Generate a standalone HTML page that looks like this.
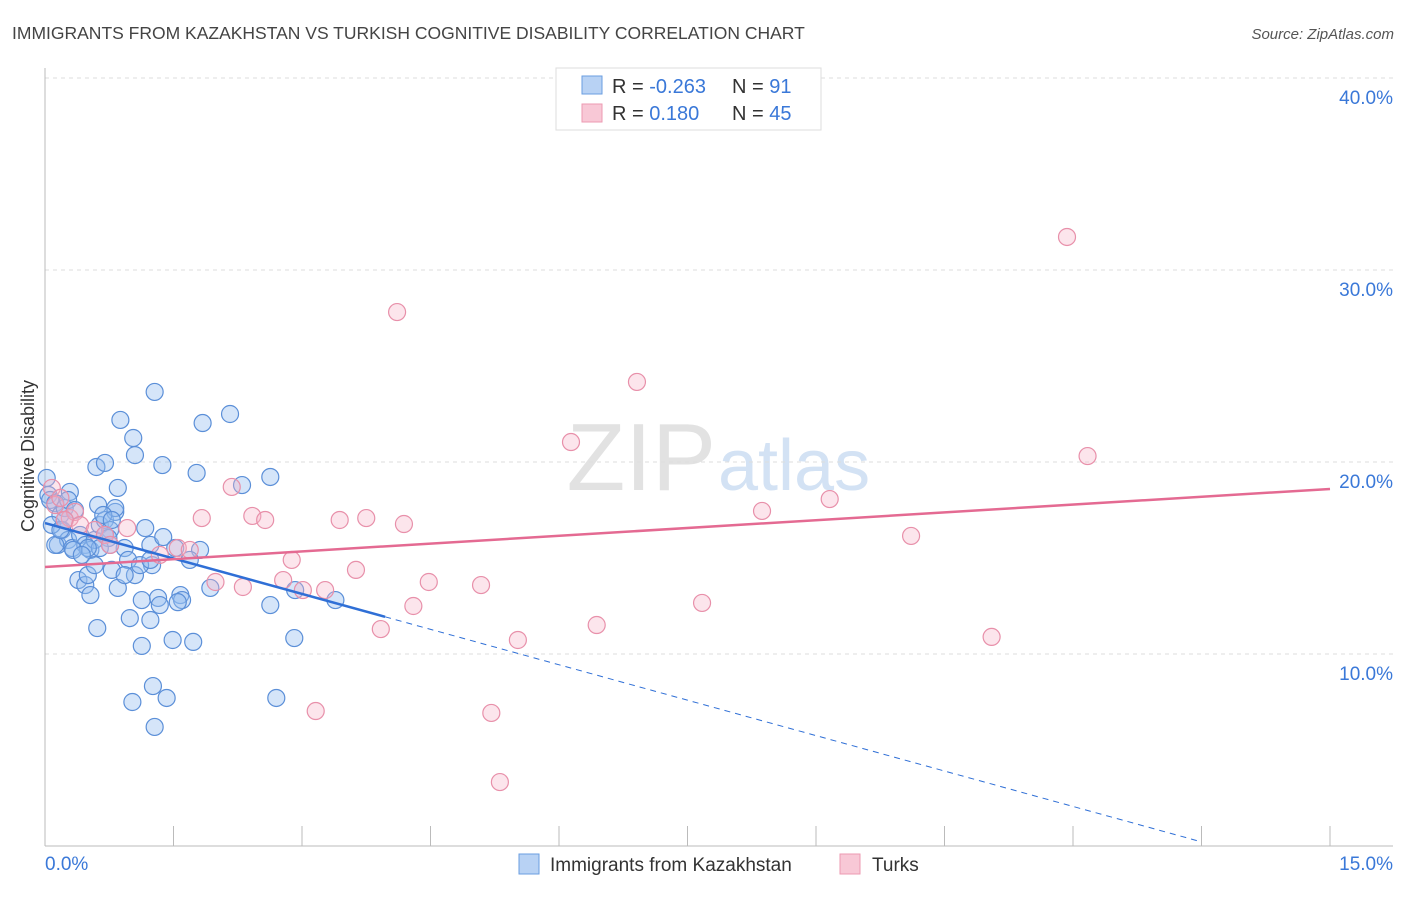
<!DOCTYPE html>
<html><head><meta charset="utf-8"><style>
body{margin:0;background:#fff;font-family:"Liberation Sans",sans-serif;}
svg text{font-family:"Liberation Sans",sans-serif;}
</style></head><body>
<svg id="chart" width="1406" height="892" xmlns="http://www.w3.org/2000/svg">
<text x="12" y="39" font-size="17.5" fill="#444">IMMIGRANTS FROM KAZAKHSTAN VS TURKISH COGNITIVE DISABILITY CORRELATION CHART</text>
<text x="1394" y="39" font-size="15" fill="#555" font-style="italic" text-anchor="end">Source: ZipAtlas.com</text>
<text x="716" y="490" font-size="96" fill="#e2e2e2" text-anchor="end" font-family="Liberation Serif">ZIP</text>
<text x="718" y="490" font-size="72" fill="#d3e2f4">atlas</text>
<g id="grid"></g>
<g id="axes"></g>
<g id="marks"></g>
<text transform="translate(34,456) rotate(-90)" font-size="18" fill="#333" text-anchor="middle">Cognitive Disability</text>
<g>
<rect x="556" y="68" width="265" height="62" fill="#fff" stroke="#ddd"/>
<rect x="582" y="76" width="20" height="18" fill="#b8d2f4" stroke="#6a9ee0"/>
<rect x="582" y="104" width="20" height="18" fill="#f8c8d6" stroke="#ec9ab2"/>
<text x="612" y="93" font-size="20" fill="#333">R = <tspan fill="#3a78d8">-0.263</tspan></text>
<text x="732" y="93" font-size="20" fill="#333">N = <tspan fill="#3a78d8"> 91</tspan></text>
<text x="612" y="120" font-size="20" fill="#333">R = <tspan fill="#3a78d8"> 0.180</tspan></text>
<text x="732" y="120" font-size="20" fill="#333">N = <tspan fill="#3a78d8">45</tspan></text>
</g>
<g>
<rect x="519" y="854" width="20" height="20" fill="#b8d2f4" stroke="#6a9ee0"/>
<text x="550" y="871" font-size="19" fill="#333">Immigrants from Kazakhstan</text>
<rect x="840" y="854" width="20" height="20" fill="#f8c8d6" stroke="#ec9ab2"/>
<text x="872" y="871" font-size="19" fill="#333">Turks</text>
</g>
</svg>
<script>
const blueX=[0.02,0.04,0.06,0.12,0.18,0.23,0.29,0.27,0.35,0.20,0.15,0.27,0.32,0.41,0.47,0.53,0.58,0.64,0.70,0.76,0.82,0.74,0.64,0.39,0.47,0.50,0.53,0.61,0.60,0.70,0.85,0.82,0.88,1.03,1.05,1.28,1.37,1.77,1.84,2.16,2.30,2.63,0.78,0.85,0.93,0.97,1.05,0.99,1.13,1.17,1.23,1.25,1.23,1.32,1.38,1.52,1.58,1.60,1.81,1.93,1.69,1.13,1.49,1.73,1.26,1.02,1.42,1.28,2.70,2.63,2.92,2.91,3.39,0.08,0.12,0.18,0.23,0.62,0.68,0.50,0.33,0.43,0.58,0.70,0.76,0.78,0.93,1.11,1.23,1.34,1.55];
const blueY=[19.17,18.28,18.02,17.86,17.24,17.60,18.44,18.02,17.50,16.46,15.68,15.94,15.52,16.20,15.68,15.42,15.94,16.72,16.98,16.46,17.40,16.04,15.52,13.85,13.59,14.11,13.07,11.35,19.74,19.95,18.65,17.60,22.19,21.25,20.36,23.65,19.84,19.43,22.03,22.50,18.80,19.22,14.38,13.44,15.52,14.90,14.11,11.87,12.81,16.56,15.68,14.63,11.77,12.92,16.09,15.52,13.07,12.81,15.42,13.44,14.90,10.42,10.73,10.63,8.33,7.50,7.71,6.20,7.71,12.55,13.33,10.83,12.81,16.72,15.68,16.46,16.98,17.76,17.24,15.52,15.42,15.16,14.63,16.20,15.68,16.98,14.11,14.63,14.90,12.55,12.70];
const pinkX=[0.08,0.12,0.18,0.29,0.35,0.23,0.41,0.58,0.70,0.76,0.96,1.34,1.55,1.69,1.83,1.99,2.18,2.31,2.42,2.57,2.78,2.88,3.01,3.16,3.27,3.44,3.63,3.75,3.92,4.11,4.19,4.30,4.48,5.09,5.21,5.31,5.52,6.14,6.44,6.91,7.67,8.37,9.16,10.11,11.05,11.93,12.17];
const pinkY=[18.65,17.76,18.13,17.08,17.40,16.98,16.72,16.46,16.20,15.68,16.56,15.16,15.52,15.42,17.08,13.75,18.70,13.49,17.19,16.98,13.85,14.90,13.33,7.03,13.33,16.98,14.38,17.08,11.30,27.81,16.77,12.50,13.75,13.59,6.93,3.33,10.73,21.04,11.51,24.17,12.66,17.45,18.07,16.15,10.89,31.72,20.31];
const blueTrend=[16.82,-1.23];
const blueSolidEnd=3.97, blueDashEnd=13.5;
const pinkTrend=[14.53,0.271];
const yTicks=[10,20,30,40];
const yTickLabels=["10.0%","20.0%","30.0%","40.0%"];
const xTicks=[0,1.5,3,4.5,6,7.5,9,10.5,12,13.5,15];
const xLabels=[[0,"0.0%"],[15,"15.0%"]];

const NS="http://www.w3.org/2000/svg";
const X=v=>45+v*(1330-45)/15;
const Y=v=>846-v*19.2;
function mk(parent,tag,attrs){const e=document.createElementNS(NS,tag);for(const k in attrs)e.setAttribute(k,attrs[k]);document.getElementById(parent).appendChild(e);return e;}

yTicks.forEach((t,i)=>{
  const l=mk('grid','line',{x1:45,x2:1393,y1:Y(t),y2:Y(t),stroke:'#ddd','stroke-dasharray':'4,4'});
  
  
  const tx=mk('axes','text',{x:1393,y:Y(t)+26,'font-size':19,fill:'#3a78d8','text-anchor':'end'});
  tx.textContent=yTickLabels[i];
  
  
});
const ax=mk('axes','line',{x1:45,x2:45,y1:68,y2:846,stroke:'#bbb'});


const bx=mk('axes','line',{x1:45,x2:1393,y1:846,y2:846,stroke:'#bbb'});


xTicks.forEach(t=>{
  const l=mk('axes','line',{x1:X(t),x2:X(t),y1:826,y2:846,stroke:'#bbb'});
  
  
});
xLabels.forEach(([v,s])=>{
  const tx=mk('axes','text',{x:v===0?X(v):1393,y:870,'font-size':19,fill:'#3a78d8','text-anchor':v===0?'start':'end'});
  tx.textContent=s;
  
  
});
blueX.forEach((v,i)=>{
  const c=mk('marks','circle',{cx:X(v),cy:Y(blueY[i]),r:8.5,fill:'rgba(150,190,240,0.4)',stroke:'#5b8fd8','stroke-width':1.2});
  
  
});
pinkX.forEach((v,i)=>{
  const c=mk('marks','circle',{cx:X(v),cy:Y(pinkY[i]),r:8.5,fill:'rgba(246,180,200,0.35)',stroke:'#e890aa','stroke-width':1.2});
  
  
});
const bf=x=>blueTrend[0]+blueTrend[1]*x, pf=x=>pinkTrend[0]+pinkTrend[1]*x;
let l=mk('marks','line',{x1:X(0),y1:Y(bf(0)),x2:X(blueSolidEnd),y2:Y(bf(blueSolidEnd)),stroke:'#2f6fd6','stroke-width':2.5});


l=mk('marks','line',{x1:X(blueSolidEnd),y1:Y(bf(blueSolidEnd)),x2:X(blueDashEnd),y2:Y(bf(blueDashEnd)),stroke:'#2f6fd6','stroke-width':1,'stroke-dasharray':'6,5'});


l=mk('marks','line',{x1:X(0),y1:Y(pf(0)),x2:X(15),y2:Y(pf(15)),stroke:'#e46a92','stroke-width':2.5});


</script>
</body></html>
